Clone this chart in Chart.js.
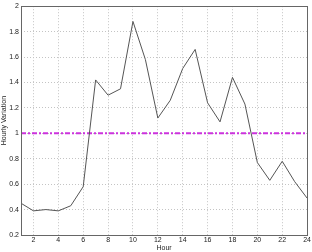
<!DOCTYPE html>
<html>
<head>
<meta charset="utf-8">
<script src="https://cdn.jsdelivr.net/npm/chart.js@4"></script>
<style>
    html, body { margin: 0; padding: 0; background: #fff; }
    #wrap { width: 312px; height: 252px; }
</style>
</head>
<body>
<div id="wrap"><canvas id="chart" width="312" height="252"></canvas></div>
<script>
// Data
const hours = [1, 2, 3, 4, 5, 6, 7, 8, 9, 10, 11, 12, 13, 14, 15, 16, 17, 18, 19, 20, 21, 22, 23, 24];
const variation = [0.45, 0.39, 0.40, 0.39, 0.43, 0.58, 1.42, 1.30, 1.35, 1.88, 1.58, 1.12,
                   1.26, 1.51, 1.66, 1.24, 1.09, 1.44, 1.23, 0.77, 0.63, 0.78, 0.62, 0.49];
const referenceLevel = 1;
const xTicks = [2, 4, 6, 8, 10, 12, 14, 16, 18, 20, 22, 24];
const yTicks = [0.2, 0.4, 0.6, 0.8, 1, 1.2, 1.4, 1.6, 1.8, 2];

const font = { family: 'Liberation Sans, Arial, sans-serif', size: 7 };

// Box round the plot area, MATLAB style
const frame = {
    id: 'frame',
    afterDraw(chart) {
        const { ctx, chartArea: a } = chart;
        ctx.save();
        ctx.strokeStyle = '#666';
        ctx.lineWidth = 1;
        ctx.strokeRect(Math.round(a.left) + 0.5, Math.round(a.top) + 0.5,
            Math.round(a.right - a.left), Math.round(a.bottom - a.top));
        ctx.restore();
    }
};

new Chart(document.getElementById('chart'), {
    type: 'line',
    data: {
        datasets: [{
            data: hours.map((h, i) => ({ x: h, y: variation[i] })),
            borderColor: '#555',
            borderWidth: 1,
            pointRadius: 0,
            tension: 0
        }, {
            data: [{ x: hours[0], y: referenceLevel }, { x: hours[hours.length - 1], y: referenceLevel }],
            borderColor: '#cc33dd',
            borderWidth: 2,
            borderDash: [5, 2, 2, 2],
            pointRadius: 0
        }]
    },
    plugins: [frame],
    options: {
        responsive: false,
        animation: false,
        layout: { padding: { left: 0, right: 4, top: 5, bottom: 0 } },
        plugins: { legend: { display: false }, tooltip: { enabled: false } },
        scales: {
            x: {
                type: 'linear',
                min: 1,
                max: 24,
                afterBuildTicks: s => { s.ticks = xTicks.map(v => ({ value: v })); },
                afterFit: s => { s.height = 17; },
                ticks: { font, color: '#222', padding: 1, maxRotation: 0, callback: v => String(v) },
                grid: { color: '#c4c4c4', drawTicks: false },
                border: { display: false, dash: [1, 2] },
                title: { display: true, text: 'Hour', font, color: '#222', padding: { top: 0, bottom: 0 } }
            },
            y: {
                min: 0.2,
                max: 2,
                afterBuildTicks: s => { s.ticks = yTicks.map(v => ({ value: v })); },
                afterFit: s => { s.width = 21; },
                ticks: { font, color: '#222', padding: 2, callback: v => String(+v.toFixed(1)) },
                grid: { color: '#c4c4c4', drawTicks: false },
                border: { display: false, dash: [1, 2] },
                title: { display: true, text: 'Hourly Variation', font, color: '#222', padding: { top: 0, bottom: 0 } }
            }
        }
    }
});
</script>
</body>
</html>
